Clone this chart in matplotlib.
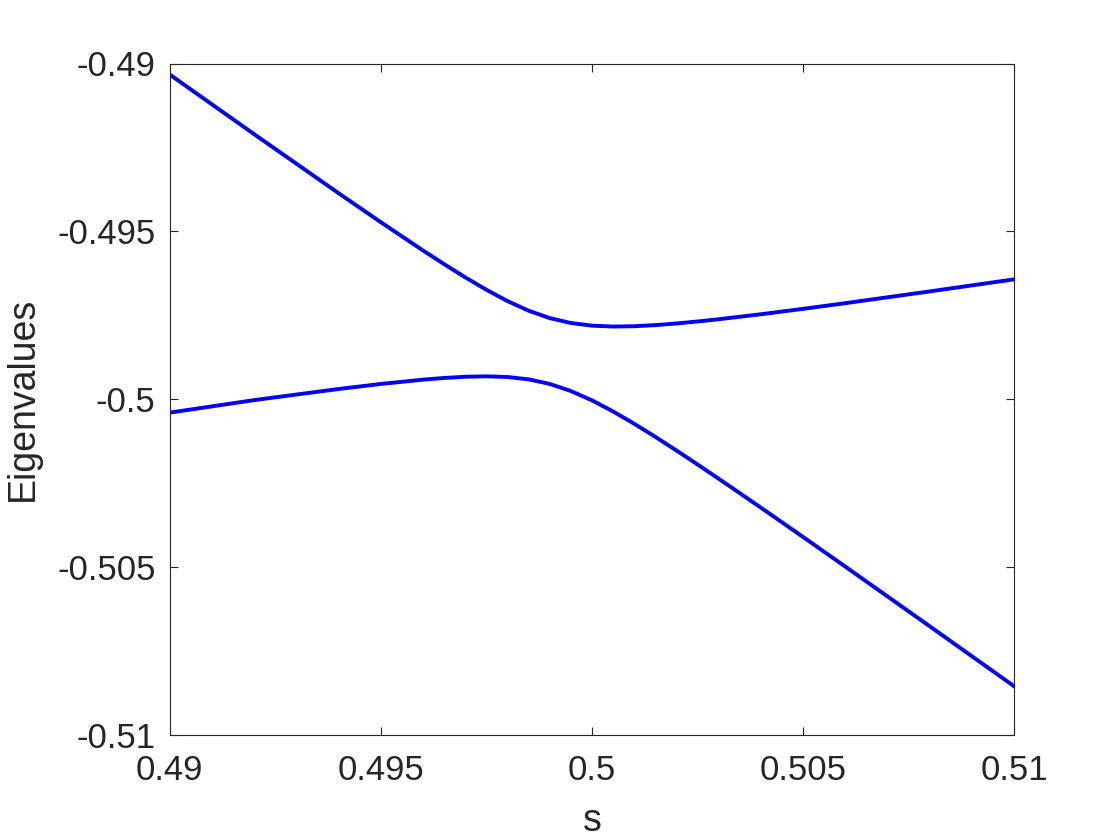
import matplotlib
matplotlib.use("Agg")
import matplotlib.pyplot as plt

# values
s_vals = [0.490, 0.492, 0.494, 0.495, 0.496, 0.4965, 0.497, 0.4975, 0.498,
          0.4985, 0.499, 0.4995, 0.500, 0.5005, 0.501, 0.5015, 0.502, 0.5025,
          0.503, 0.504, 0.505, 0.506, 0.508, 0.510]
upper = [-0.490324, -0.492102, -0.493861, -0.494725, -0.495568, -0.495975,
         -0.496368, -0.496738, -0.497075, -0.497362, -0.497583, -0.497729,
         -0.497808, -0.497834, -0.497825, -0.497792, -0.497743, -0.497684,
         -0.497617, -0.497468, -0.497307, -0.497138, -0.496788, -0.496428]
lower = [-0.500400, -0.500026, -0.499695, -0.499545, -0.499416, -0.499366,
         -0.499330, -0.499317, -0.499337, -0.499407, -0.499543, -0.499754,
         -0.500032, -0.500363, -0.500729, -0.501119, -0.501525, -0.501942,
         -0.502366, -0.503228, -0.504103, -0.504986, -0.506764, -0.508552]

x_ticks = [0.49, 0.495, 0.5, 0.505, 0.51]
x_labels = ["0.49", "0.495", "0.5", "0.505", "0.51"]
y_ticks = [-0.51, -0.505, -0.5, -0.495, -0.49]
y_labels = ["-0.51", "-0.505", "-0.5", "-0.495", "-0.49"]

plt.rcParams['font.family'] = ['Liberation Sans', 'DejaVu Sans']
dark = '#262626'

fig = plt.figure(figsize=(11.2, 8.4), dpi=100)
ax = fig.add_axes([169.5 / 1120, 1 - 735 / 840, 844.8 / 1120, 671.5 / 840])

ax.plot(s_vals, upper, color='#0000ff', linewidth=2.8)
ax.plot(s_vals, lower, color='#0000ff', linewidth=2.8)

ax.set_xlim(0.49, 0.51)
ax.set_ylim(-0.51, -0.49)
ax.set_xticks(x_ticks, x_labels)
ax.set_yticks(y_ticks, y_labels)

for sp in ax.spines.values():
    sp.set_color(dark)
    sp.set_linewidth(0.8)
ax.tick_params(direction='in', top=True, right=True, length=6, width=0.8,
               color=dark, labelcolor=dark, labelsize=25)
ax.tick_params(axis='x', pad=14)
ax.tick_params(axis='y', pad=10)

ax.set_xlabel("s", fontsize=27, color=dark)
ax.set_ylabel("Eigenvalues", fontsize=27, color=dark)
ax.xaxis.set_label_coords(0.5, -0.102)
ax.yaxis.set_label_coords(-0.152, 0.5)

fig.savefig("out.png", dpi=100)
